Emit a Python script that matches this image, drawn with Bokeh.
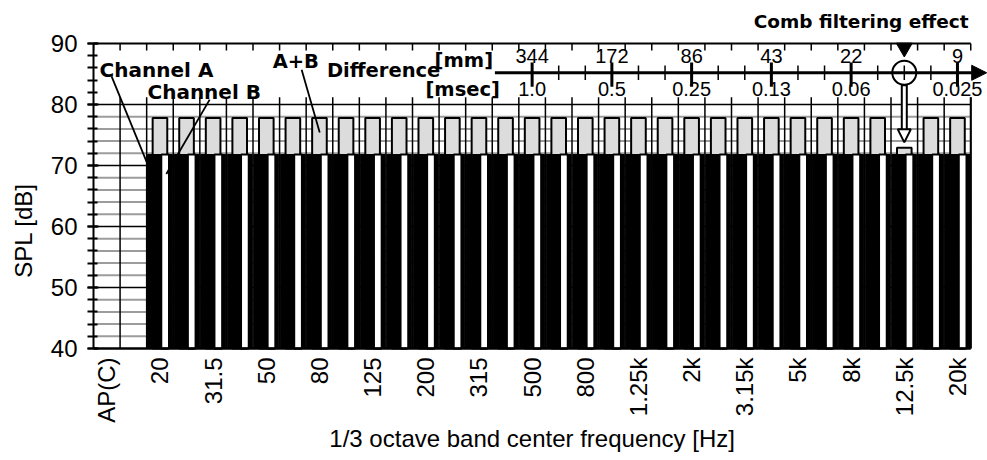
import math
from bokeh.plotting import figure
from bokeh.models import (Range1d, SingleIntervalTicker,
                          Label, Arrow, NormalHead, ColumnDataSource)
from bokeh.transform import dodge
from bokeh.core.properties import value
from bokeh.embed import file_html
from bokeh.resources import INLINE

# ---------------- data ----------------
categories = ["AP(C)", " ", "20", "25", "31.5", "40", "50", "63", "80", "100", "125", "160",
              "200", "250", "315", "400", "500", "630", "800", "1k", "1.25k", "1.6k", "2k",
              "2.5k", "3.15k", "4k", "5k", "6.3k", "8k", "10k", "12.5k", "16k", "20k"]
bands = ["20", "25", "31.5", "40", "50", "63", "80", "100", "125", "160", "200", "250",
         "315", "400", "500", "630", "800", "1k", "1.25k", "1.6k", "2k", "2.5k", "3.15k",
         "4k", "5k", "6.3k", "8k", "10k", "12.5k", "16k", "20k"]
channel_a = [71.8, 71.8, 71.8, 71.8, 71.8, 71.8, 71.8, 71.8, 71.8, 71.8, 71.8, 71.8,
             71.8, 71.8, 71.8, 71.8, 71.8, 71.8, 71.8, 71.8, 71.8, 71.8, 71.8,
             71.8, 71.8, 71.8, 71.8, 71.8, 71.8, 71.8, 71.8]
channel_b = [71.8, 71.8, 71.8, 71.8, 71.8, 71.8, 71.8, 71.8, 71.8, 71.8, 71.8, 71.8,
             71.8, 71.8, 71.8, 71.8, 71.8, 71.8, 71.8, 71.8, 71.8, 71.8, 71.8,
             71.8, 71.8, 71.8, 71.8, 71.8, 71.8, 71.8, 71.8]
a_plus_b = [77.8, 77.8, 77.8, 77.8, 77.8, 77.8, 77.8, 77.8, 77.8, 77.8, 77.8, 77.8,
            77.8, 77.8, 77.8, 77.8, 77.8, 77.8, 77.8, 77.8, 77.8, 77.8, 77.8,
            77.8, 77.8, 77.8, 77.8, 77.8, 72.9, 77.8, 77.8]
tick_labels = ["AP(C)", "20", "31.5", "50", "80", "125", "200", "315", "500", "800",
               "1.25k", "2k", "3.15k", "5k", "8k", "12.5k", "20k"]
y_ticks = [40, 50, 60, 70, 80, 90]
y_minor = [42, 44, 46, 48, 52, 54, 56, 58, 62, 64, 66, 68, 72, 74, 76, 78]

# path / time difference scale
delay_bands = ["500", "1k", "2k", "4k", "8k", "20k"]
delay_mm = ["344", "172", "86", "43", "22", "9"]
delay_msec = ["1.0", "0.5", "0.25", "0.13", "0.06", "0.025"]
delay_tick_bands = ["500", "630", "800", "1k", "1.25k", "1.6k", "2k", "2.5k", "3.15k", "4k",
                    "5k", "6.3k", "8k", "10k", "12.5k", "16k", "20k"]
comb_band = "12.5k"

# ---------------- layout ----------------
FONT = "Liberation Sans"
BOLD = "DejaVu Sans"
Y0, Y1 = 40, 90
SCALE_Y = 85.2

pos = {c: i for i, c in enumerate(categories)}
n = len(categories)
XL, XR = -0.5, n - 0.5

p = figure(width=987, height=460, output_backend="svg", toolbar_location=None,
           x_range=Range1d(XL, 33.13), y_range=Range1d(21.64, 97.05),
           x_axis_location=None,
           min_border_left=93, min_border_right=0, min_border_top=0,
           min_border_bottom=0, background_fill_color="white",
           border_fill_color="white")
p.outline_line_color = None
p.xgrid.visible = False
p.ygrid.visible = False

# y axis
ya = p.yaxis[0]
ya.ticker = SingleIntervalTicker(interval=10, num_minor_ticks=5)
ya.bounds = (Y0, Y1)
ya.axis_label = "SPL [dB]"
ya.axis_line_width = 2
ya.axis_line_color = "black"
ya.major_tick_in = 5
ya.major_tick_out = 6
ya.minor_tick_in = 4
ya.minor_tick_out = 6
ya.major_tick_line_width = 2
ya.minor_tick_line_width = 2
ya.major_tick_line_color = "black"
ya.minor_tick_line_color = "black"
ya.major_label_text_font = FONT
ya.major_label_text_font_size = "24px"
ya.major_label_text_color = "black"
ya.major_label_standoff = 10
ya.axis_label_text_font = FONT
ya.axis_label_text_font_style = "normal"
ya.axis_label_text_font_size = "24px"
ya.axis_label_text_color = "black"
ya.axis_label_standoff = 11

# horizontal grid lines
p.segment(x0=[XL] * len(y_minor), y0=y_minor, x1=[XR] * len(y_minor), y1=y_minor,
          line_color="#9c9c9c", line_width=2)
gy = [t for t in y_ticks if Y0 < t < Y1]
p.segment(x0=[XL] * len(gy), y0=gy, x1=[XR] * len(gy), y1=gy,
          line_color="black", line_width=1.5)

# vertical slot boundaries (right one = frame border)
bounds = [i + 0.5 for i in range(n)]
p.segment(x0=bounds, y0=[Y0] * n, x1=bounds, y1=[81.2] * n,
          line_color="black", line_width=1.5)
p.segment(x0=[XR], y0=[Y0], x1=[XR], y1=[81.2], line_color="black", line_width=2)

# top frame line with slot ticks
p.segment(x0=[XL], y0=[Y1], x1=[XR], y1=[Y1], line_color="black", line_width=2)
tb = [i - 0.5 for i in range(n + 1)]
p.segment(x0=tb, y0=[Y1] * len(tb), x1=tb, y1=[88.85] * len(tb),
          line_color="black", line_width=1.5)

# bars
src = ColumnDataSource(dict(x=[pos[b] for b in bands], a=channel_a, b=channel_b, ab=a_plus_b))
p.vbar(x="x", top="ab", bottom=Y0, width=0.55, fill_color="#dcdcdc",
       line_color="black", line_width=2, source=src)
p.vbar(x="x", top="a", bottom=Y0, width=0.94, fill_color="black",
       line_color="black", line_width=1, source=src)
p.vbar(x=dodge("x", 0.195), top="b", bottom=Y0, width=0.29,
       fill_color="white", line_color="black", line_width=2, source=src)

# bottom axis line, tick labels, axis title
p.segment(x0=[XL], y0=[Y0], x1=[XR], y1=[Y0], line_color="black", line_width=2.5)
p.text(x=[pos[t] for t in tick_labels], y=[Y0] * len(tick_labels), text=tick_labels,
       angle=math.pi / 2, y_offset=9, text_align="right", text_baseline="middle",
       text_font=value(FONT), text_font_size="24px", text_color="black")
p.add_layout(Label(x=(XL + XR) / 2, y=25.2, text="1/3 octave band center frequency [Hz]",
                   text_font=FONT, text_font_size="24px", text_align="center",
                   text_baseline="middle", text_color="black"))

# difference scale
p.add_layout(Arrow(x_start=pos[delay_tick_bands[0]] - 1.4, y_start=SCALE_Y,
                   x_end=33.1, y_end=SCALE_Y, line_width=3, line_color="black",
                   end=NormalHead(size=15, fill_color="black", line_color="black")))
mt = [pos[b] for b in delay_tick_bands]
p.segment(x0=mt, y0=[84.0] * len(mt), x1=mt, y1=[86.4] * len(mt),
          line_color="black", line_width=1.5)
Mt = [pos[b] for b in delay_bands]
p.segment(x0=Mt, y0=[82.9] * len(Mt), x1=Mt, y1=[86.9] * len(Mt),
          line_color="black", line_width=3)
p.text(x=Mt, y=[88.0] * len(Mt), text=delay_mm, text_font=value(FONT),
       text_font_size="20px", text_align="center", text_baseline="middle",
       text_color="black")
p.text(x=Mt, y=[82.6] * len(Mt), text=delay_msec, text_font=value(FONT),
       text_font_size="20px", text_align="center", text_baseline="middle",
       text_color="black")

# comb filtering marker
cx = pos[comb_band]
cab = a_plus_b[bands.index(comb_band)]
p.scatter(x=[cx], y=[SCALE_Y], marker="circle", size=24, fill_color=None,
          line_color="black", line_width=2)
p.scatter(x=[cx], y=[89.3], marker="inverted_triangle", size=16,
          fill_color="black", line_color="black")
p.segment(x0=[cx], y0=[83.2], x1=[cx], y1=[cab + 2.9], line_color="black", line_width=7)
p.segment(x0=[cx], y0=[83.0], x1=[cx], y1=[cab + 2.9], line_color="white", line_width=3)
p.add_layout(Arrow(x_start=cx, y_start=cab + 3.5, x_end=cx, y_end=cab + 0.9,
                   line_alpha=0,
                   end=NormalHead(size=13, fill_color="white", line_color="black",
                                  line_width=2)))

# pointer lines
p.segment(x0=[0.18, 3.87, 7.33], y0=[84.6, 80.8, 85.7],
          x1=[pos["20"] - 0.39, pos["20"] + 0.24, pos["80"] + 0.01],
          y1=[69.4, 68.6, 75.4], line_color="black", line_width=1.8)


def blabel(x, y, t, align="left", size="19.5px"):
    p.add_layout(Label(x=x, y=y, text=t, text_font=BOLD, text_font_style="bold",
                       text_font_size=size, text_align=align, text_baseline="middle",
                       text_color="black"))


blabel(-0.27, 85.7, "Channel A", size="20px")
blabel(1.53, 82.1, "Channel B", size="20px")
blabel(6.24, 87.0, "A+B")
blabel(8.28, 85.6, "Difference")
blabel(14.53, 87.2, "[mm]", align="right")
blabel(14.79, 82.5, "[msec]", align="right")
blabel(32.42, 93.6, "Comb filtering effect", align="right", size="18.5px")

open("out.html", "w").write(file_html(p, INLINE))
